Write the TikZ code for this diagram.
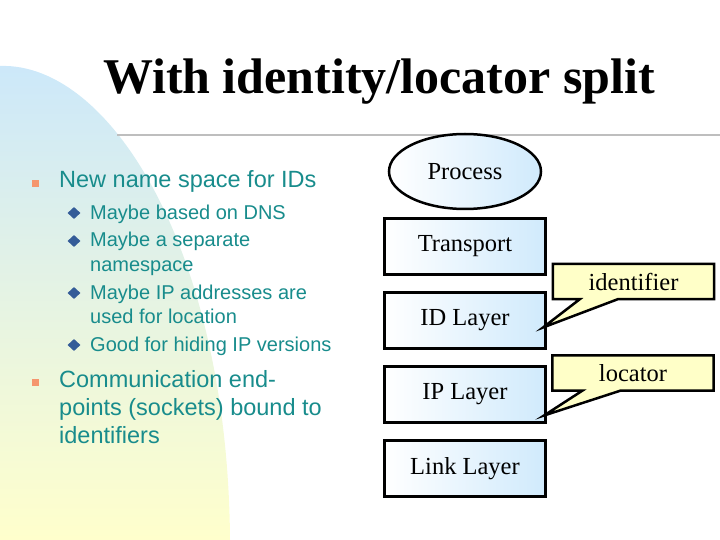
\documentclass[tikz,border=0pt]{standalone}
\usepackage{fontspec}
\setmainfont{Liberation Serif}
\setsansfont{Liberation Sans}
\usepackage{tikz}
\usetikzlibrary{shapes.geometric,positioning,calc}
\usepackage{xcolor}
\definecolor{bgblue}{RGB}{204,232,250}
\definecolor{bgyellow}{RGB}{255,255,204}
\definecolor{boxblue}{RGB}{208,234,252}
\definecolor{tagyellow}{RGB}{255,255,200}
\definecolor{textteal}{RGB}{24,140,140}
\definecolor{bulletorange}{RGB}{245,150,110}
\definecolor{diamondblue}{RGB}{52,92,152}
\definecolor{rulegray}{RGB}{190,190,190}

\begin{document}
\begin{tikzpicture}[x=1pt,y=-1pt,
    layerfont/.style={font=\fontsize{24.5}{28}\selectfont},
    layerbox/.style={draw=black,line width=3pt,left color=white,right color=boxblue,
                     minimum width=161pt,minimum height=56pt,inner sep=0pt,layerfont},
    tagframe/.style={minimum width=161pt,minimum height=35pt,inner sep=0pt},
    tagshape/.style={draw=black,line width=2.5pt,fill=tagyellow,line join=miter},
    mainitem/.style={anchor=base west,inner sep=0pt,text=textteal,
                     font=\sffamily\fontsize{23.5}{28}\selectfont},
    subitem/.style={anchor=base west,inner sep=0pt,text=textteal,
                    font=\sffamily\fontsize{20}{24}\selectfont},
    sqbullet/.style={fill=bulletorange,minimum size=7pt,inner sep=0pt},
    dmbullet/.style={diamond,fill=diamondblue,minimum width=13pt,
                     minimum height=12pt,inner sep=0pt}]

    \useasboundingbox (0,0) rectangle (720,540);

    % background sweep
    \shade[top color=bgblue,bottom color=bgyellow]
        (0,66) .. controls (110,62) and (228,250) .. (230,540) -- (0,540) -- cycle;

    % title and rule
    \node[anchor=base,inner sep=0pt,font=\bfseries\fontsize{50}{60}\selectfont]
        (title) at (379,94) {With identity/locator split};
    \coordinate (rulestart) at (117,135);
    \coordinate (ruleend) at (720,135);
    \draw[rulegray,line width=2pt] (rulestart) -- (ruleend);

    % bullet list
    \node[sqbullet] (sq1) at (35,184) {};
    \node[mainitem] (ids) at (59,188) {New name space for IDs};
    \node[dmbullet] (dm1) at (74,213) {};
    \node[subitem] (dns) at (90,219) {Maybe based on DNS};
    \node[dmbullet] (dm2) at (74,241) {};
    \node[subitem] (sep) at (90,247) {Maybe a separate};
    \node[subitem] (sepb) at (90,271) {namespace};
    \node[dmbullet] (dm3) at (74,293) {};
    \node[subitem] (loc) at (90,299) {Maybe IP addresses are};
    \node[subitem] (locb) at (90,323) {used for location};
    \node[dmbullet] (dm4) at (74,345) {};
    \node[subitem] (hide) at (90,351) {Good for hiding IP versions};
    \node[sqbullet] (sq2) at (35,382) {};
    \node[mainitem] (comm) at (59,387) {Communication end-};
    \node[mainitem] (commb) at (59,415) {points (sockets) bound to};
    \node[mainitem] (commc) at (59,443) {identifiers};

    % protocol stack
    \node[ellipse,draw=black,line width=2.5pt,left color=white,right color=boxblue,
          minimum width=152pt,minimum height=75pt,inner sep=0pt,layerfont]
        (proc) at (465,171.5) {Process};
    \node[layerbox] (trans) at (465,246.5) {Transport};
    \node[layerbox,below=15pt of trans] (idl) {ID Layer};
    \node[layerbox,below=15pt of idl] (ipl) {IP Layer};
    \node[layerbox,below=15pt of ipl] (link) {Link Layer};

    % callouts
    \node[tagframe] (idtag) at (633.5,281.5) {};
    \coordinate (idtip) at ($(idl.east)+(-4,7)$);
    \draw[tagshape] (idtag.north west) -- (idtag.north east) -- (idtag.south east)
        -- ($(idtag.south west)+(65,0)$) -- (idtip) -- ($(idtag.south west)+(27,0)$)
        -- (idtag.south west) -- cycle;
    \node[layerfont] (idtext) at (idtag) {identifier};

    \node[tagframe] (loctag) at (633,373) {};
    \coordinate (loctip) at ($(ipl.east)+(-3,21)$);
    \draw[tagshape] (loctag.north west) -- (loctag.north east) -- (loctag.south east)
        -- ($(loctag.south west)+(68,0)$) -- (loctip) -- ($(loctag.south west)+(30,0)$)
        -- (loctag.south west) -- cycle;
    \node[layerfont] (loctext) at (loctag) {locator};
\end{tikzpicture}
\end{document}
